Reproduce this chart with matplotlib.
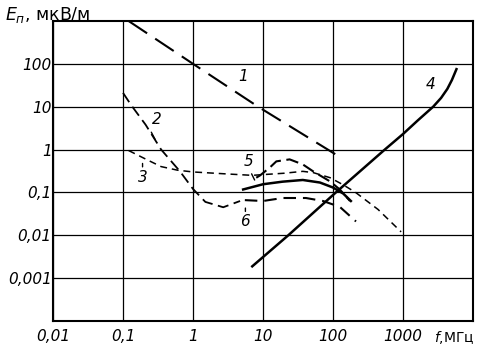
import matplotlib
matplotlib.use("Agg")
import matplotlib.pyplot as plt

# curve 1 - long dashes
f1 = [0.12, 1, 8.5, 120]
e1 = [1000, 100, 10, 0.7]

# curve 2 - dashed, falling into a dip near 2-3 MHz
f2 = [0.1, 0.13, 0.21, 0.35, 0.65, 1.0, 1.5, 2.7, 4.7]
e2 = [21, 11, 3.8, 1.0, 0.31, 0.12, 0.06, 0.045, 0.063]

# curve 3 - fine dashes
f3 = [0.12, 0.21, 0.35, 0.6, 1, 3, 7, 10, 20, 37, 52, 91, 140, 210, 440, 940]
e3 = [0.95, 0.6, 0.4, 0.33, 0.3, 0.27, 0.25, 0.26, 0.28, 0.31, 0.29, 0.22,
      0.15, 0.10, 0.04, 0.012]

# curve 4 - solid rising line
f4 = [6.8, 23, 110, 550, 1000, 1630, 2700, 3500, 4300, 5000, 5900]
e4 = [0.0018, 0.01, 0.1, 1.0, 2.3, 4.8, 10, 16, 26, 42, 80]

# curve 5 - dashed hump
f5 = [8, 9.1, 12.5, 15.5, 24, 37, 52, 91, 125, 175]
e5 = [0.22, 0.25, 0.38, 0.53, 0.59, 0.45, 0.31, 0.18, 0.117, 0.063]

# solid curve between 5 and 6
fs = [5.2, 10, 19, 37, 65, 100, 140, 180]
es = [0.117, 0.155, 0.178, 0.195, 0.17, 0.13, 0.094, 0.063]

# curve 6 - dashed, low
f6 = [5.5, 10, 19, 41, 72, 125, 213]
e6 = [0.066, 0.063, 0.074, 0.074, 0.063, 0.046, 0.021]

x_ticks = [0.01, 0.1, 1, 10, 100, 1000]
x_labels = ["0,01", "0,1", "1", "10", "100", "1000"]
y_ticks = [0.001, 0.01, 0.1, 1, 10, 100]
y_labels = ["0,001", "0,01", "0,1", "1", "10", "100"]

plt.rcParams["lines.scale_dashes"] = False
plt.rcParams["mathtext.fontset"] = "dejavusans"

fig = plt.figure(figsize=(4.78, 3.5), dpi=100)
ax = fig.add_axes([0.111, 0.083, 0.8785, 0.857])

ax.plot(f1, e1, color="black", linewidth=1.5, dashes=(16, 7))
ax.plot(f2, e2, color="black", linewidth=1.3, dashes=(8, 4))
ax.plot(f3, e3, color="black", linewidth=1.1, dashes=(5, 3.5))
ax.plot(f4, e4, color="black", linewidth=1.8, solid_capstyle="butt")
ax.plot(f5, e5, color="black", linewidth=1.5, dashes=(9, 4))
ax.plot(fs, es, color="black", linewidth=1.8)
ax.plot(f6, e6, color="black", linewidth=1.5, dashes=(9, 5))

ax.set_xscale("log")
ax.set_yscale("log")
ax.set_xlim(0.01, 1e4)
ax.set_ylim(1e-4, 1e3)

ax.set_xticks(x_ticks)
ax.set_xticklabels(x_labels, style="italic", fontsize=11)
ax.set_yticks(y_ticks)
ax.set_yticklabels(y_labels, style="italic", fontsize=11)
ax.minorticks_off()
ax.tick_params(length=0, pad=6)
ax.tick_params(axis="y", pad=1)
ax.grid(True, color="black", linewidth=0.9)
for sp in ax.spines.values():
    sp.set_linewidth(1.5)

# curve labels
lab = dict(fontsize=11, style="italic", ha="center", va="center")
ax.text(5.2, 52, "1", **lab)
ax.text(0.3, 5.0, "2", **lab)
ax.text(0.19, 0.22, "3", **lab)
ax.text(2500, 33, "4", **lab)
ax.text(6.3, 0.52, "5", **lab)
ax.text(5.5, 0.021, "6", **lab)

# little pointer strokes from labels to curves
stroke = dict(arrowstyle="-", color="black", linewidth=1)
ax.annotate("", xy=(0.3, 1.5), xytext=(0.243, 2.9), arrowprops=stroke)
ax.annotate("", xy=(0.19, 0.55), xytext=(0.19, 0.34), arrowprops=stroke)
ax.annotate("", xy=(7.9, 0.17), xytext=(6.6, 0.31), arrowprops=stroke)
ax.annotate("", xy=(5.6, 0.05), xytext=(5.6, 0.031), arrowprops=stroke)

fig.text(0.01, 0.985, "$E_{п}$, мкВ/м", fontsize=12.5, ha="left", va="top")
fig.text(434 / 478, 1 - 342 / 350, "$f$,МГц", fontsize=10, ha="left",
         va="baseline")

fig.savefig("out.png", dpi=100)
